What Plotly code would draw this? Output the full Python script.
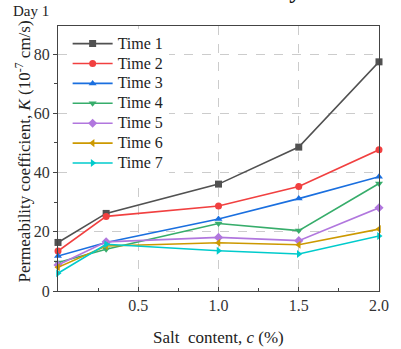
import plotly.graph_objects as go

salt = [0, 0.3, 1.0, 1.5, 2.0]
series_names = ["Time 1", "Time 2", "Time 3", "Time 4", "Time 5", "Time 6", "Time 7"]
time1 = [16.4, 26.2, 36.1, 48.6, 77.4]
time2 = [13.5, 25.2, 28.7, 35.3, 47.7]
time3 = [11.8, 16.4, 24.3, 31.2, 38.6]
time4 = [9.6, 14.1, 22.8, 20.4, 36.3]
time5 = [8.8, 16.6, 18.1, 17.0, 28.1]
time6 = [8.0, 15.2, 16.3, 15.6, 20.9]
time7 = [6.0, 15.8, 13.6, 12.5, 18.6]
values = [time1, time2, time3, time4, time5, time6, time7]

colors = ["#515151", "#F14040", "#1A6FDF", "#37AD6B", "#B177DE", "#CC9900", "#00CBCC"]
symbols = ["square", "circle", "triangle-up", "triangle-down", "diamond", "triangle-left", "triangle-right"]

FONT = "Liberation Serif, Times New Roman, serif"

fig = go.Figure()
for name, vals, c, s in zip(series_names, values, colors, symbols):
    fig.add_trace(go.Scatter(
        x=salt, y=vals, name='<span style="font-size:16px">' + name + '</span>',
        mode="lines+markers",
        line=dict(color=c, width=1.6),
        marker=dict(symbol=s, size=7, color=c),
        cliponaxis=False,
    ))

fig.update_layout(
    width=401, height=349,
    margin=dict(l=58, r=15, t=26, b=58),
    paper_bgcolor="white", plot_bgcolor="white",
    font=dict(family=FONT, size=16, color="#222"),
    showlegend=True,
    legend=dict(
        x=0.03, y=0.99, xanchor="left", yanchor="top",
        bgcolor="white", borderwidth=0,
        font=dict(family=FONT, size=13, color="#222"),
        tracegroupgap=0, itemwidth=40,
    ),
    annotations=[
        dict(text="Day 1", x=-0.085, y=1.055, xref="paper", yref="paper", showarrow=False,
             xanchor="center", yanchor="middle",
             font=dict(family=FONT, size=15, color="#222")),
        dict(text="Permeability coefficient, <i>K</i> (10<sup>-7</sup> cm/s)",
             x=-0.11, y=0.525, xref="paper", yref="paper", textangle=-90,
             showarrow=False, xanchor="center", yanchor="middle",
             font=dict(family=FONT, size=17, color="#222")),
        dict(text="Salt  content, <i>c</i> (%)", x=0.5, y=-0.175, xref="paper", yref="paper",
             showarrow=False, xanchor="center", yanchor="middle",
             font=dict(family=FONT, size=17, color="#222")),
        dict(text="<b>Day</b>", x=0.762, y=1.079, xref="paper", yref="paper", showarrow=False,
             xanchor="right", yanchor="bottom",
             font=dict(family=FONT, size=24, color="#111")),
    ],
)

fig.update_xaxes(
    range=[0, 2.0], tickvals=[0.5, 1.0, 1.5, 2.0], ticktext=["0.5", "1.0", "1.5", "2.0"],
    showline=True, linecolor="#444", linewidth=1.2, mirror=True,
    ticks="inside", ticklen=4, tickcolor="#444",
    minor=dict(tickvals=[0.25, 0.75, 1.25, 1.75], ticks="inside", ticklen=3, tickcolor="#444", showgrid=False),
    showgrid=True, gridcolor="#cccccc", griddash="dash", gridwidth=1,
    zeroline=False, tickfont=dict(family=FONT, size=16, color="#333"),
)
fig.update_yaxes(
    range=[0, 89.5], tickvals=[0, 20, 40, 60, 80],
    showline=True, linecolor="#444", linewidth=1.2, mirror=True,
    ticks="outside", ticklen=4, tickcolor="#444",
    minor=dict(tickvals=[10, 30, 50, 70], ticks="outside", ticklen=3, tickcolor="#444", showgrid=False),
    showgrid=True, gridcolor="#cccccc", griddash="dash", gridwidth=1,
    zeroline=False, tickfont=dict(family=FONT, size=16, color="#333"),
)

fig.write_html("out.html")
